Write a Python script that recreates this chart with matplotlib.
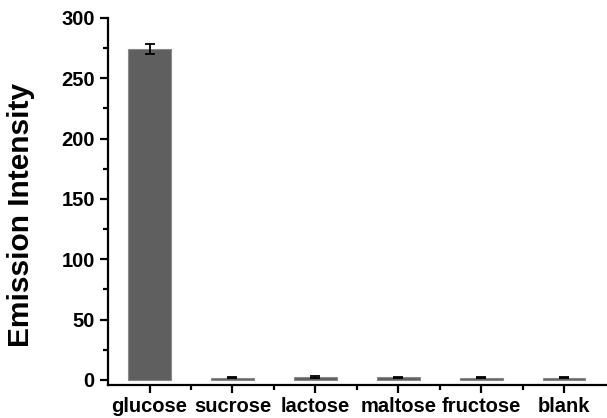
import numpy as np
import matplotlib.pyplot as plt
from matplotlib.ticker import FixedLocator

plt.rcParams['font.family'] = ['Liberation Sans', 'DejaVu Sans']
plt.rcParams['font.weight'] = 'bold'

sugars = ['glucose', 'sucrose', 'lactose', 'maltose', 'fructose', 'blank']
intensity = [274.5, 2.0, 2.3, 2.1, 2.0, 2.0]
errors = [4.0, 0.6, 0.6, 0.6, 0.6, 0.6]

fig = plt.figure(figsize=(6.07, 4.18), dpi=100)
ax = fig.add_axes([0.178, 0.080, 0.82, 0.877])

x = np.arange(len(sugars))
ax.bar(x, intensity, width=0.51, color='#5f5f5f', edgecolor='#8a8a8a', linewidth=0.8,
       yerr=errors, error_kw=dict(ecolor='black', elinewidth=1.3, capsize=3.5, capthick=1.3),
       zorder=2)

ax.set_xlim(-0.5, 5.5)
ax.set_ylim(-3.8, 300)
ax.set_xticks(x)
ax.set_xticklabels(sugars)
ax.xaxis.set_minor_locator(FixedLocator(x[:-1] + 0.5))
ax.yaxis.set_major_locator(FixedLocator([0, 50, 100, 150, 200, 250, 300]))
ax.yaxis.set_minor_locator(FixedLocator([25, 75, 125, 175, 225, 275]))

for s in ['top', 'right']:
    ax.spines[s].set_visible(False)
for s in ['left', 'bottom']:
    ax.spines[s].set_linewidth(1.6)

ax.tick_params(axis='both', which='major', direction='out', length=6, width=1.6, labelsize=14.5)
ax.tick_params(axis='both', which='minor', direction='out', length=3.5, width=1.6)
ax.tick_params(axis='x', which='major', pad=3)

ax.set_ylabel('Emission Intensity', fontsize=21.5, fontweight='bold')
ax.yaxis.set_label_coords(-0.147, 0.463)

fig.savefig('out.png', dpi=100)
